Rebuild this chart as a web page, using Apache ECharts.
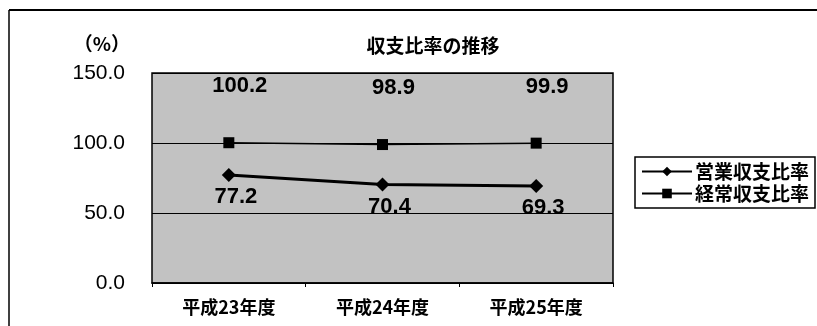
<!DOCTYPE html>
<html>
<head>
<meta charset="utf-8">
<script src="https://cdn.jsdelivr.net/npm/echarts@6/dist/echarts.min.js"></script>
<style>
  html, body { margin: 0; padding: 0; background: #fff; }
  #chart { width: 817px; height: 326px; }
</style>
</head>
<body>
<div id="chart"></div>
<script>
// Fiscal years on the category axis
const years = ['平成23年度', '平成24年度', '平成25年度'];
// Operating revenue/expense ratio (%)
const operatingRatio = [77.2, 70.4, 69.3];
// Ordinary revenue/expense ratio (%)
const ordinaryRatio = [100.2, 98.9, 99.9];
// Value-axis ticks
const yTicks = [0, 50, 100, 150];

const FONT = '"Liberation Sans", "Noto Sans CJK JP", sans-serif';
const JP = '"Noto Sans CJK JP", sans-serif';

const chart = echarts.init(document.getElementById('chart'), null, { renderer: 'canvas' });

chart.setOption({
  animation: false,
  backgroundColor: '#ffffff',
  title: {
    text: '収支比率の推移',
    left: 428, top: 31, textAlign: 'center',
    textStyle: { fontFamily: JP, fontSize: 19, fontWeight: 'bold', color: '#000' }
  },
  legend: {
    left: 635, top: 157,
    orient: 'vertical',
    itemWidth: 50, itemHeight: 12, itemGap: 3,
    padding: [5, 6, 5, 6],
    borderColor: '#000', borderWidth: 1.5,
    backgroundColor: '#fff',
    textStyle: { fontFamily: JP, fontSize: 19, fontWeight: 'bold', color: '#000', padding: [0, 0, 0, -2] },
    data: ['営業収支比率', '経常収支比率']
  },
  grid: {
    left: 152, right: 204, top: 73, bottom: 43,
    show: true, backgroundColor: '#c2c2c2',
    borderColor: '#000', borderWidth: 1.5
  },
  xAxis: {
    type: 'category',
    data: years,
    boundaryGap: true,
    axisLine: { show: true, lineStyle: { color: '#000', width: 1.5 } },
    axisTick: { show: true, inside: false, length: 4, lineStyle: { color: '#000' } },
    axisLabel: { fontFamily: JP, fontSize: 18, fontWeight: 'bold', color: '#000', margin: 15 }
  },
  yAxis: {
    type: 'value',
    min: yTicks[0], max: yTicks[yTicks.length - 1], interval: 50,
    name: '（%）',
    nameLocation: 'end',
    nameGap: 20,
    nameTextStyle: { fontFamily: JP, fontSize: 19, fontWeight: 'bold', color: '#000', align: 'right', padding: [0, 22, 0, 0] },
    axisLine: { show: false },
    axisTick: { show: false },
    splitLine: { show: true, lineStyle: { color: '#000', width: 1 } },
    axisLabel: {
      fontFamily: FONT, fontSize: 21, color: '#000', margin: 27,
      formatter: v => v.toFixed(1)
    }
  },
  series: [
    {
      name: '営業収支比率',
      type: 'line',
      data: operatingRatio,
      symbol: 'diamond', symbolSize: 14,
      lineStyle: { color: '#000', width: 3 },
      itemStyle: { color: '#000' },
      label: {
        show: true, position: 'bottom', distance: 4, offset: [7, 0],
        fontFamily: FONT, fontSize: 22, fontWeight: 'bold', color: '#000',
        formatter: p => p.value.toFixed(1)
      },
      z: 3
    },
    {
      name: '経常収支比率',
      type: 'line',
      data: ordinaryRatio,
      symbol: 'rect', symbolSize: 11,
      lineStyle: { color: '#000', width: 1.5 },
      itemStyle: { color: '#000' },
      label: {
        show: true, position: 'top', distance: 40, offset: [11, 0],
        fontFamily: FONT, fontSize: 22, fontWeight: 'bold', color: '#000',
        formatter: p => p.value.toFixed(1)
      },
      z: 2
    }
  ],
  graphic: [
    { type: 'line', shape: { x1: 9, y1: 10, x2: 817, y2: 10 }, style: { stroke: '#000', lineWidth: 2 } },
    { type: 'line', shape: { x1: 9, y1: 10, x2: 9, y2: 326 }, style: { stroke: '#000', lineWidth: 1.5 } }
  ]
});
</script>
</body>
</html>
